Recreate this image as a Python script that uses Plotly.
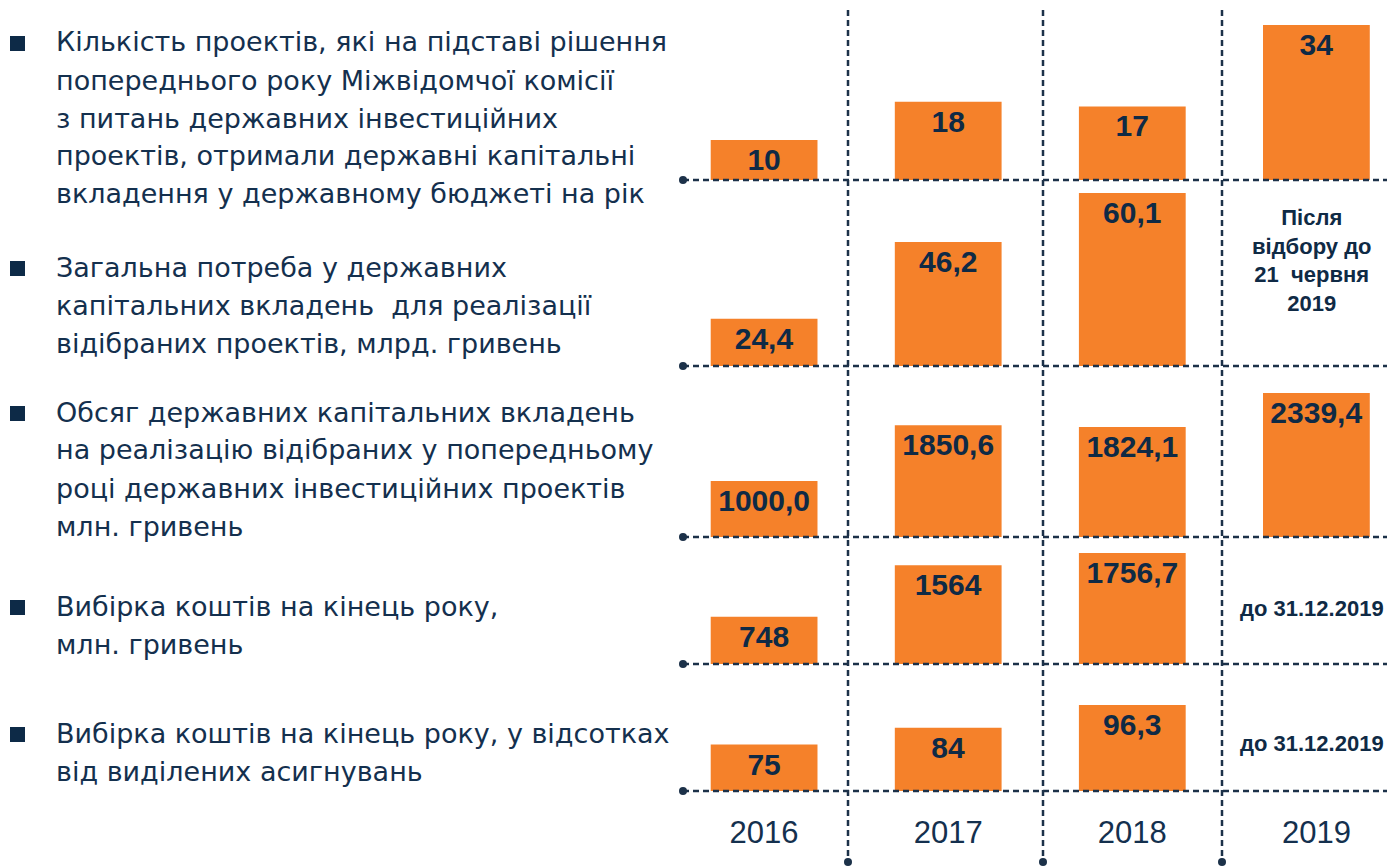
import plotly.graph_objects as go

# ---------------- data ----------------
years = ["2016", "2017", "2018", "2019"]

projects_count = [10, 18, 17, 34]
need_bn = [24.4, 46.2, 60.1, None]
capex_mn = [1000.0, 1850.6, 1824.1, 2339.4]
spent_mn = [748, 1564, 1756.7, None]
spent_pct = [75, 84, 96.3, None]

labels_count = ["10", "18", "17", "34"]
labels_need = ["24,4", "46,2", "60,1", ""]
labels_capex = ["1000,0", "1850,6", "1824,1", "2339,4"]
labels_spent = ["748", "1564", "1756,7", ""]
labels_pct = ["75", "84", "96,3", ""]

row_titles = [
    ["Кількість проектів, які на підставі рішення",
     "попереднього року Міжвідомчої комісії",
     "з питань державних інвестиційних",
     "проектів, отримали державні капітальні",
     "вкладення у державному бюджеті на рік"],
    ["Загальна потреба у державних",
     "капітальних вкладень\u00a0 для реалізації",
     "відібраних проектів, млрд. гривень"],
    ["Обсяг державних капітальних вкладень",
     "на реалізацію відібраних у попередньому",
     "році державних інвестиційних проектів",
     "млн. гривень"],
    ["Вибірка коштів на кінець року,",
     "млн. гривень"],
    ["Вибірка коштів на кінець року, у відсотках",
     "від виділених асигнувань"],
]

notes_2019 = {
    1: "Після<br>відбору до<br>21\u00a0 червня<br>2019",
    3: "до 31.12.2019",
    4: "до 31.12.2019",
}

series = [projects_count, need_bn, capex_mn, spent_mn, spent_pct]
labels = [labels_count, labels_need, labels_capex, labels_spent, labels_pct]

# ---------------- layout / style ----------------
W, H = 1387, 867
ORANGE = "#F5812A"
NAVY = "#0f2a45"
TEXTC = "#14304e"
LINEC = "#1c3149"
BOLDF = "Liberation Sans, Arial, sans-serif"
SANS = "Liberation Sans, Arial, sans-serif"
TITLEF = "DejaVu Sans, Liberation Sans, sans-serif"

base_px = [180, 366, 537, 664, 791]
top_px = [25, 193, 393, 553, 705]
ymins = [1.65, 11, 150, 0, 50]
text_y_px = [42, 267, 412, 606, 733]
line_step = 38
note_y_px = {1: 260, 3: 608, 4: 743}
x_left_px = 683


def px(x):
    return x / W


def py(y):
    return 1 - y / H


fig = go.Figure()
layout = dict(
    width=W, height=H,
    margin=dict(l=0, r=0, t=0, b=0),
    paper_bgcolor="white", plot_bgcolor="rgba(0,0,0,0)",
    showlegend=False,
)
annotations = []
shapes = []

for i, (vals, labs) in enumerate(zip(series, labels)):
    n = i + 1
    xa = "x" if n == 1 else f"x{n}"
    ya = "y" if n == 1 else f"y{n}"
    xkey = "xaxis" if n == 1 else f"xaxis{n}"
    ykey = "yaxis" if n == 1 else f"yaxis{n}"
    fig.add_trace(go.Bar(
        x=years, y=vals, xaxis=xa, yaxis=ya,
        marker=dict(color=ORANGE, line=dict(width=0)),
        width=0.58, hoverinfo="skip",
        text=labs, textposition="inside", insidetextanchor="end",
        constraintext="none", cliponaxis=False, textangle=0,
        textfont=dict(family=BOLDF, size=30, color=NAVY, weight="bold"),
    ))
    ymax = max(v for v in vals if v is not None)
    last = (n == len(series))
    layout[xkey] = dict(
        domain=[px(x_left_px), 1], type="category",
        categoryorder="array", categoryarray=years,
        range=[-0.4405, 3.3835], showgrid=False, zeroline=False,
        showline=False, showticklabels=last, fixedrange=True,
        ticks="outside" if last else "", ticklen=14,
        tickcolor="rgba(0,0,0,0)",
        tickfont=dict(family=SANS, size=31, color=TEXTC),
        anchor=ya,
    )
    layout[ykey] = dict(
        domain=[py(base_px[i]), py(top_px[i])], range=[ymins[i], ymax],
        visible=False, fixedrange=True, anchor=xa,
    )
    # row description on the left, one annotation per line
    for k, line in enumerate(row_titles[i]):
        annotations.append(dict(
            x=px(54), y=py(text_y_px[i] + k * line_step), xref="paper", yref="paper",
            xanchor="left", yanchor="middle", align="left", showarrow=False,
            text=line, font=dict(family=TITLEF, size=27, color=TEXTC),
        ))
    # bullet square
    shapes.append(dict(
        type="rect", xref="paper", yref="paper",
        x0=px(10), x1=px(25), y0=py(text_y_px[i] + 9), y1=py(text_y_px[i] - 6),
        fillcolor="#0d2a47", line=dict(width=0),
    ))
    # horizontal dashed baseline with dot
    shapes.append(dict(
        type="line", xref="paper", yref="paper",
        x0=px(x_left_px), x1=1, y0=py(base_px[i]), y1=py(base_px[i]),
        line=dict(color=LINEC, width=2.5, dash="6px,4px"),
    ))
    shapes.append(dict(
        type="circle", xref="paper", yref="paper",
        x0=px(x_left_px - 4), x1=px(x_left_px + 4),
        y0=py(base_px[i] + 4), y1=py(base_px[i] - 4),
        fillcolor=LINEC, line=dict(width=0),
    ))
    if i in notes_2019:
        annotations.append(dict(
            x=px(1312), y=py(note_y_px[i]), xref="paper", yref="paper",
            text=notes_2019[i], showarrow=False, yanchor="middle", xanchor="center",
            font=dict(family=BOLDF, size=22, color=NAVY, weight="bold"),
        ))

# vertical dashed separators with bottom dots
for xv in [848, 1043, 1222]:
    shapes.append(dict(
        type="line", xref="paper", yref="paper",
        x0=px(xv), x1=px(xv), y0=py(10), y1=py(862),
        line=dict(color=LINEC, width=2.5, dash="6px,4px"),
    ))
    shapes.append(dict(
        type="circle", xref="paper", yref="paper",
        x0=px(xv - 4), x1=px(xv + 4), y0=py(866), y1=py(858),
        fillcolor=LINEC, line=dict(width=0),
    ))

layout["annotations"] = annotations
layout["shapes"] = shapes
fig.update_layout(**layout)
fig.write_html(
    "out.html",
    config={"displayModeBar": False},
    post_script="document.body.style.margin='0px';document.body.style.overflow='hidden';",
)
